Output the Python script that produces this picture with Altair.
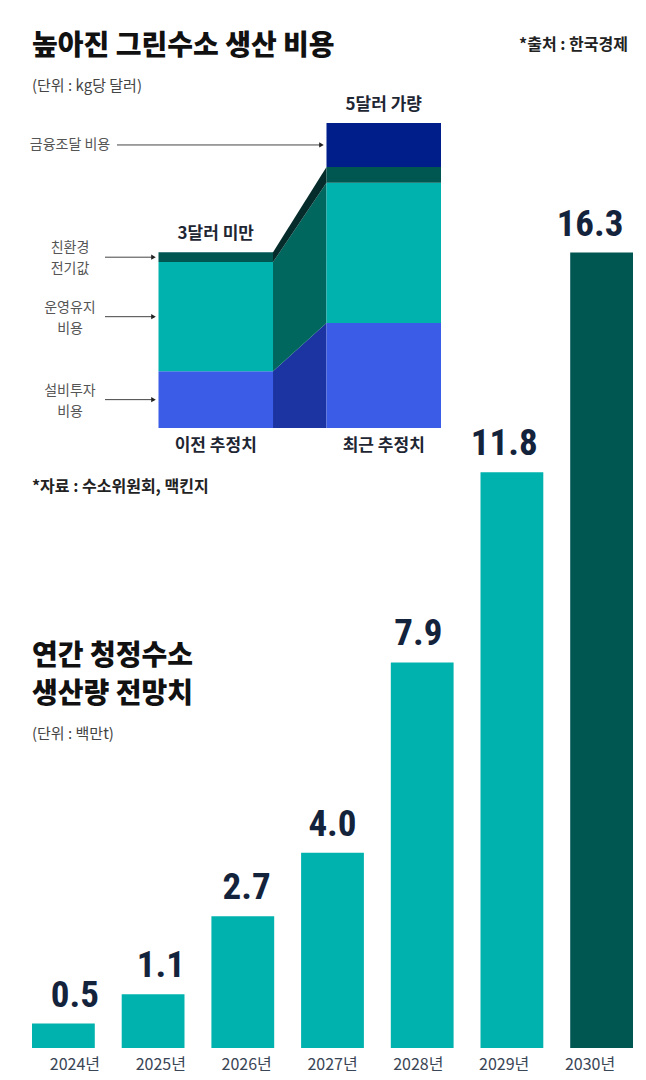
import altair as alt
import pandas as pd

# ---------------- data ----------------
stages = ["이전 추정치", "최근 추정치"]
stage_totals = ["3달러 미만", "5달러 가량"]
components = ["설비투자 비용", "운영유지 비용", "친환경 전기값", "금융조달 비용"]
component_labels = ["설비투자\n비용", "운영유지\n비용", "친환경\n전기값", "금융조달 비용"]
prev_values = [0.93, 1.79, 0.16, 0.0]
recent_values = [1.72, 2.30, 0.26, 0.72]

years = ["2024년", "2025년", "2026년", "2027년", "2028년", "2029년", "2030년"]
production = [0.5, 1.1, 2.7, 4.0, 7.9, 11.8, 16.3]

title1 = "높아진 그린수소 생산 비용"
unit1 = "(단위 : kg당 달러)"
source1 = "*출처 : 한국경제"
source2 = "*자료 : 수소위원회, 맥킨지"
title2 = "연간 청정수소\n생산량 전망치"
unit2 = "(단위 : 백만t)"

# ---------------- styles ----------------
KR = "Noto Sans CJK KR"
NUM = "'Liberation Sans Narrow', 'Roboto Condensed', 'DejaVu Sans Condensed', sans-serif"
YEARFONT = "'Liberation Sans Narrow', 'Noto Sans CJK KR', sans-serif"
col_colors = ["#3a5ce6", "#00b2ae", "#005752", "#001e8a"]
conn_colors = ["#1c34a2", "#00675f", "#052c2b"]
TEAL = "#00b2ae"
DARK = "#005752"
NAVY = "#14233c"
GAP = 0.467

rows = []
for si, vals in enumerate([prev_values, recent_values]):
    for ci, comp in enumerate(components):
        rows.append(dict(stage=stages[si], si=si, comp=comp, ci=ci,
                         label=component_labels[ci], value=vals[ci],
                         total_label=stage_totals[si]))
cost_df = pd.DataFrame(rows)
prod_df = pd.DataFrame({"year": years, "value": production})

xs = alt.Scale(domain=[0, 2 + GAP], range=[150.5, 433], nice=False, zero=False)
ys = alt.Scale(domain=[0, 5], range=[420, 115], nice=False, zero=False)

base = (
    alt.Chart(cost_df)
    .transform_stack(stack="value", groupby=["stage"],
                     sort=[alt.SortField("ci", order="ascending")], as_=["y0", "y1"])
    .transform_calculate(
        x0=f"datum.si * (1 + {GAP})",
        x1=f"datum.si * (1 + {GAP}) + 1",
        xc=f"datum.si * (1 + {GAP}) + 0.5",
        cx=f"1 + datum.si * {GAP}",
        mid="(datum.y0 + datum.y1) / 2",
    )
)

columns = base.mark_rect(strokeWidth=0).encode(
    x=alt.X("x0:Q", scale=xs, axis=None),
    x2="x1:Q",
    y=alt.Y("y0:Q", scale=ys, axis=None),
    y2="y1:Q",
    color=alt.Color("comp:N", scale=alt.Scale(domain=components, range=col_colors), legend=None),
)

connector = base.transform_filter("datum.ci < 3").mark_area(
    interpolate="linear", opacity=1, orient="vertical"
).encode(
    x=alt.X("cx:Q", scale=xs, axis=None),
    y=alt.Y("y1:Q", scale=ys, axis=None),
    y2=alt.Y2("y0:Q"),
    color=alt.Color("comp:N", scale=alt.Scale(domain=components[:3], range=conn_colors), legend=None),
)

left_filter = "datum.si == 0 && datum.value > 0"
right_filter = "datum.si == 1 && datum.ci == 3"

arrow_left = base.transform_filter(left_filter).mark_rule(color="#444", strokeWidth=1, xOffset=-5).encode(
    x=alt.X("x0:Q", scale=xs, axis=None), x2=alt.value(97),
    y=alt.Y("mid:Q", scale=ys, axis=None),
)
arrow_right = base.transform_filter(right_filter).mark_rule(color="#444", strokeWidth=1, xOffset=-5).encode(
    x=alt.X("x0:Q", scale=xs, axis=None), x2=alt.value(109),
    y=alt.Y("mid:Q", scale=ys, axis=None),
)
heads = base.transform_filter(f"({left_filter}) || ({right_filter})").mark_point(
    shape="triangle-right", filled=True, size=28, color="#222", opacity=1, xOffset=-5
).encode(
    x=alt.X("x0:Q", scale=xs, axis=None),
    y=alt.Y("mid:Q", scale=ys, axis=None),
)
comp_text_multi = base.transform_filter(left_filter).mark_text(
    lineBreak="\n", align="center", baseline="middle", fontSize=14, lineHeight=21,
    color="#555", font=KR, dy=-9
).encode(
    x=alt.value(62),
    y=alt.Y("mid:Q", scale=ys, axis=None),
    text="label:N",
)
comp_text_single = base.transform_filter(right_filter).mark_text(
    align="center", baseline="middle", fontSize=14, color="#555", font=KR
).encode(
    x=alt.value(62),
    y=alt.Y("mid:Q", scale=ys, axis=None),
    text="label:N",
)
totals_text = base.transform_filter("datum.ci == 3").mark_text(
    align="center", baseline="middle", dy=-18, fontSize=17, fontWeight="bold",
    color="#1e2633", font=KR
).encode(
    x=alt.X("xc:Q", scale=xs, axis=None),
    y=alt.Y("y1:Q", scale=ys, axis=None),
    text="total_label:N",
)
stage_text = base.transform_filter("datum.ci == 3").mark_text(
    align="center", baseline="middle", fontSize=17, fontWeight="bold",
    color="#1e2633", font=KR
).encode(
    x=alt.X("xc:Q", scale=xs, axis=None),
    y=alt.value(438),
    text="stage:N",
)

# ---------------- production bars ----------------
bx = alt.Scale(domain=years, range=[24, 625], paddingInner=0.3, paddingOuter=0)
by = alt.Scale(domain=[0, 20], range=[1040, 64], nice=False)
pbase = alt.Chart(prod_df)
bars = pbase.mark_bar(strokeWidth=0).encode(
    x=alt.X("year:N", sort=years, scale=bx, axis=None),
    y=alt.Y("value:Q", scale=by, axis=None),
    color=alt.condition("datum.year == '2030년'", alt.value(DARK), alt.value(TEAL)),
)
values_text = pbase.mark_text(
    align="center", baseline="alphabetic", dy=-17, fontSize=37, fontWeight="bold",
    color=NAVY, font=NUM
).encode(
    x=alt.X("year:N", sort=years, scale=bx, axis=None),
    y=alt.Y("value:Q", scale=by, axis=None),
    text=alt.Text("value:Q", format=".1f"),
)
years_text = pbase.mark_text(
    align="center", baseline="middle", fontSize=16, color="#3a4556", font=YEARFONT
).encode(
    x=alt.X("year:N", sort=years, scale=bx, axis=None),
    y=alt.value(1057),
    text="year:N",
)


def note(txt, x, y, size, weight="normal", color="#222", align="left", lh=None):
    kw = dict(align=align, baseline="middle", fontSize=size, fontWeight=weight,
              color=color, font=KR, lineBreak="\n")
    if lh:
        kw["lineHeight"] = lh
    return alt.Chart(pd.DataFrame({"t": [txt]})).mark_text(**kw).encode(
        x=alt.value(x), y=alt.value(y), text="t:N")


notes = [
    note(title1, 24, 39, 28, 900, "#111"),
    note(unit1, 24, 78, 15, "normal", "#444"),
    note(source1, 620, 37, 16, "bold", "#222", align="right"),
    note(source2, 24, 479, 16, "bold", "#222"),
    note(title2, 24, 649, 28, 900, "#111", lh=38),
    note(unit2, 24, 726, 15, "normal", "#444"),
]

chart = alt.layer(
    connector, columns, arrow_left, arrow_right, heads, comp_text_multi, comp_text_single,
    totals_text, stage_text, bars, values_text, years_text, *notes
).resolve_scale(
    x="independent", y="independent", color="independent"
).properties(
    width=630, height=1071, padding=0, autosize=alt.AutoSizeParams(type="none"),
    background="white"
).configure_view(stroke=None)

chart.save("out.html", embed_options={"renderer": "svg", "actions": False})
